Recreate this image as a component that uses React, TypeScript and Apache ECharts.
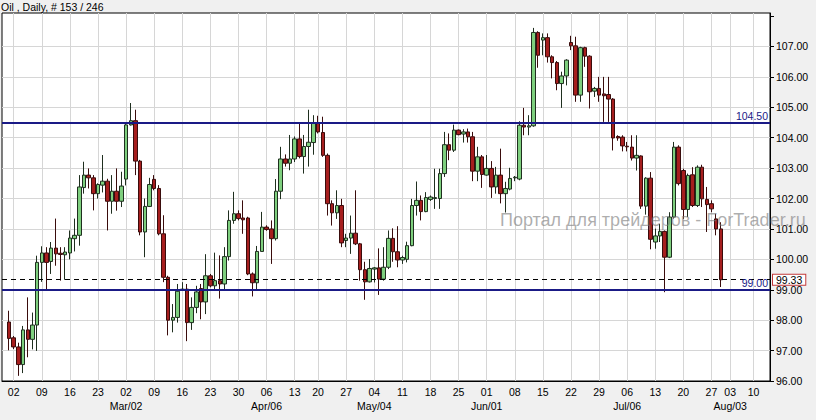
import React, { useEffect, useRef } from "react";
import * as echarts from "echarts";

// ---- data ----
const firstTradingDay = "2014-01-31";
const holidays = ["2014-04-18"];
const futureDays = [
  "2014-07-30", "2014-08-03", "2014-08-04", "2014-08-05", "2014-08-06",
  "2014-08-07", "2014-08-10", "2014-08-11", "2014-08-12", "2014-08-13",
];
const monthNames = ["Jan", "Feb", "Mar", "Apr", "May", "Jun", "Jul", "Aug", "Sep", "Oct", "Nov", "Dec"];

const opens = [
  97.94, 97.42, 97.12, 96.54, 97.68, 97.37, 97.84, 99.9, 100.21, 99.93,
  100.37, 100.2, 100.15, 100.21, 100.68, 100.79, 102.36, 102.77, 102.68, 102.16,
  102.44, 102.57, 101.91, 102.24, 101.91, 102.64, 104.42, 104.56, 103.23, 100.9,
  101.74, 102.63, 102.33, 100.84, 99.41, 98.0, 98.09, 98.98, 99.02, 97.92,
  98.42, 99.04, 98.6, 99.46, 99.13, 99.3, 99.19, 100.09, 101.28, 101.5,
  101.36, 101.36, 99.52, 99.23, 100.26, 101.06, 101.0, 100.68, 102.24, 103.3,
  103.16, 103.3, 103.96, 103.38, 103.71, 103.84, 104.47, 104.17, 103.42, 101.83,
  101.53, 101.77, 100.62, 100.7, 100.86, 100.51, 99.66, 99.26, 99.68, 99.72,
  99.35, 99.74, 100.69, 100.25, 99.98, 100.0, 100.45, 101.77, 101.94, 101.57,
  101.97, 102.0, 102.0, 102.82, 103.77, 103.59, 104.25, 104.12, 104.19, 104.03,
  102.9, 103.37, 102.77, 102.99, 102.38, 102.77, 102.16, 102.31, 102.68, 102.64,
  104.41, 104.35, 104.39, 107.46, 107.21, 107.29, 106.66, 106.47, 105.78, 106.03,
  107.13, 107.02, 105.4, 106.96, 106.68, 105.53, 105.62, 105.44, 105.42, 105.27,
  104.04, 104.02, 103.72, 103.69, 103.33, 103.4, 101.75, 102.67, 100.57, 100.77,
  100.92, 100.07, 101.39, 103.69, 102.92, 101.64, 102.78, 101.77, 103.03, 101.97,
  101.83, 101.33, 101.0,
];
const closes = [
  97.4, 97.12, 96.54, 97.68, 97.37, 97.84, 99.9, 100.21, 99.9, 100.37,
  100.18, 100.16, 100.24, 100.7, 100.79, 102.38, 102.77, 102.68, 102.16, 102.46,
  102.57, 101.91, 102.24, 101.91, 102.41, 104.42, 104.56, 103.23, 100.9, 101.74,
  102.46, 102.33, 100.84, 99.41, 98.0, 98.09, 98.95, 99.02, 97.92, 98.42,
  98.93, 98.6, 99.46, 99.13, 99.3, 99.19, 100.09, 101.28, 101.5, 101.34,
  101.3, 99.52, 99.23, 100.26, 101.06, 100.98, 100.68, 102.24, 103.3, 103.16,
  103.3, 103.96, 103.38, 103.71, 103.85, 104.47, 104.19, 103.42, 101.83, 101.53,
  101.77, 100.54, 100.7, 100.86, 100.51, 99.66, 99.26, 99.7, 99.72, 99.35,
  99.74, 100.69, 100.25, 99.98, 100.06, 100.45, 101.77, 101.94, 101.57, 102.03,
  102.05, 102.03, 102.82, 103.77, 103.59, 104.25, 104.1, 104.19, 104.03, 102.9,
  103.37, 102.79, 102.99, 102.38, 102.77, 102.16, 102.33, 102.66, 102.7, 104.41,
  104.35, 104.39, 107.46, 106.71, 107.29, 106.66, 106.47, 105.78, 106.03, 106.55,
  107.02, 105.4, 106.96, 106.68, 105.51, 105.62, 105.4, 105.38, 105.27, 103.99,
  103.99, 103.73, 103.7, 103.33, 103.42, 101.75, 102.67, 100.66, 100.77, 100.92,
  100.07, 101.39, 103.69, 102.49, 101.64, 102.76, 101.77, 103.03, 101.99, 101.8,
  101.66, 101.0, 99.33,
];
const lows = [
  97.01, 97.05, 96.17, 96.26, 96.78, 97.04, 96.99, 99.26, 99.0, 99.52,
  99.79, 99.3, 99.33, 100.0, 100.26, 100.45, 102.16, 102.33, 101.61, 102.0,
  102.2, 100.95, 101.5, 101.6, 101.72, 102.43, 104.4, 102.77, 100.79, 100.07,
  101.72, 102.27, 100.79, 99.25, 97.5, 97.6, 97.92, 98.96, 97.31, 97.68,
  98.23, 98.03, 98.2, 99.08, 99.0, 98.71, 99.02, 99.96, 101.17, 101.28,
  100.84, 99.48, 98.78, 99.02, 100.26, 100.94, 99.85, 100.62, 101.98, 103.05,
  102.93, 103.2, 103.32, 102.82, 103.05, 103.44, 104.14, 103.37, 101.44, 101.11,
  101.33, 100.4, 100.4, 100.18, 100.47, 99.3, 98.67, 99.24, 99.24, 98.83,
  99.3, 99.68, 99.92, 99.74, 99.85, 99.9, 100.43, 101.44, 101.28, 101.55,
  101.92, 101.66, 101.66, 102.71, 103.26, 103.53, 104.08, 103.84, 103.84, 102.57,
  102.57, 102.35, 102.75, 102.02, 102.16, 101.84, 101.54, 102.27, 102.57, 102.6,
  104.08, 104.08, 104.36, 106.3, 106.71, 106.47, 105.95, 105.56, 104.98, 105.72,
  106.88, 105.18, 105.18, 106.33, 104.96, 105.34, 105.18, 104.52, 104.52, 103.58,
  103.9, 103.55, 103.55, 103.25, 102.92, 101.66, 101.47, 100.33, 100.35, 100.57,
  98.92, 100.04, 101.34, 102.43, 101.33, 101.39, 101.72, 101.72, 101.72, 100.9,
  101.55, 100.79, 99.09,
];
const highs = [
  98.31, 97.48, 97.26, 97.81, 98.75, 98.25, 100.12, 100.43, 100.4, 100.57,
  101.34, 100.4, 100.4, 100.95, 101.34, 102.77, 103.21, 102.99, 102.77, 102.5,
  103.43, 102.65, 102.77, 102.99, 102.88, 104.48, 105.14, 104.92, 103.27, 102.0,
  102.68, 102.77, 102.44, 101.45, 99.46, 98.53, 99.19, 99.25, 99.19, 98.75,
  99.13, 99.19, 100.17, 99.52, 100.22, 100.13, 100.4, 101.61, 102.22, 101.61,
  101.94, 101.4, 99.57, 100.44, 101.56, 101.12, 101.28, 102.64, 103.7, 103.45,
  104.09, 104.04, 104.48, 104.09, 104.92, 104.74, 104.72, 104.69, 103.48, 101.94,
  102.27, 101.99, 100.84, 101.44, 102.27, 100.54, 99.92, 100.01, 99.75, 100.36,
  100.4, 100.95, 101.02, 101.09, 100.12, 100.58, 101.99, 102.56, 102.1, 102.21,
  102.1, 102.98, 102.98, 104.19, 104.14, 104.43, 104.27, 104.28, 104.3, 104.19,
  103.7, 103.43, 103.43, 103.23, 103.04, 103.64, 102.55, 103.01, 102.74, 104.54,
  104.98, 104.74, 107.61, 107.5, 107.43, 107.43, 106.71, 106.52, 106.17, 106.58,
  107.35, 107.32, 106.99, 106.99, 106.71, 105.67, 106.0, 106.0, 106.0, 105.3,
  104.08, 104.08, 103.86, 104.08, 104.08, 103.42, 102.7, 102.87, 101.01, 101.17,
  100.95, 101.55, 103.86, 103.75, 102.98, 102.82, 103.03, 103.09, 103.11, 102.38,
  101.94, 101.5, 101.22,
];

const resistanceLevel = 104.5;
const supportLevel = 99.0;
const lastPrice = 99.33;
const yMin = 96;
const yMax = 108.1;
const yStep = 1;
const yLabelTop = 107;
const titleText = "Oil , Daily, # 153 / 246";
const watermarkText = "Портал для трейдеров - ForTrader.ru";

// ---- helpers ----
const pad2 = (n: number) => (n < 10 ? "0" + n : "" + n);
const toKey = (d: Date) =>
  `${d.getUTCFullYear()}-${pad2(d.getUTCMonth() + 1)}-${pad2(d.getUTCDate())}`;
const parseKey = (s: string) => {
  const [y, m, d] = s.split("-").map(Number);
  return new Date(Date.UTC(y, m - 1, d));
};

function buildTradingDays(count: number): string[] {
  const out: string[] = [];
  const d = parseKey(firstTradingDay);
  while (out.length < count) {
    const key = toKey(d);
    if (d.getUTCDay() !== 6 && holidays.indexOf(key) < 0) out.push(key);
    d.setUTCDate(d.getUTCDate() + 1);
  }
  return out;
}

const isSunday = (v: string) => !!v && parseKey(v).getUTCDay() === 0;

const FONT = '"Liberation Sans", Arial, sans-serif';
const NAVY = "#1a1a86";
const GRID = "#d6d6d6";

export default function App() {
  const ref = useRef<HTMLDivElement>(null);

  useEffect(() => {
    document.body.style.margin = "0";
    if (!ref.current) return;
    const chart = echarts.init(ref.current, undefined, { renderer: "svg" });

    const tradingDays = buildTradingDays(opens.length);
    const categories = ["", ...tradingDays, ...futureDays];
    const firstSunday = tradingDays.find(isSunday) || tradingDays[0];
    const firstLabelMonth = firstSunday.slice(5, 7);
    const ohlc = categories.map((_c, i) => {
      const k = i - 1;
      if (k < 0 || k >= opens.length) return "-";
      return [opens[k], closes[k], lows[k], highs[k]];
    });

    const labelFormatter = (v: string) => {
      if (!v) return "";
      const dd = v.slice(8, 10);
      const mm = v.slice(5, 7);
      if (Number(dd) <= 7 && mm !== firstLabelMonth) {
        return `${dd}\n${monthNames[Number(mm) - 1]}/${dd}`;
      }
      return dd;
    };

    // split line colours per y tick (ticks above the last labelled value are hidden)
    const yTickValues: number[] = [];
    for (let v = yMin; v <= yMax + 1e-9; v += yStep) yTickValues.push(v);
    if (yTickValues[yTickValues.length - 1] < yMax - 1e-9) yTickValues.push(yMax);
    const splitColors = yTickValues.map((v) => (v <= yLabelTop + 1e-9 ? GRID : "rgba(0,0,0,0)"));

    chart.setOption({
      animation: false,
      backgroundColor: "#f0f0f0",
      title: {
        text: titleText,
        left: 1,
        top: 1,
        padding: 0,
        textStyle: { fontSize: 10.5, fontWeight: "normal", color: "#000", fontFamily: FONT },
      },
      grid: {
        left: 2,
        right: 46,
        top: 13,
        bottom: 39,
        containLabel: false,
        outerBoundsMode: "none",
        show: true,
        backgroundColor: "#ffffff",
        borderColor: "#000",
        borderWidth: 1,
      },
      xAxis: {
        type: "category",
        data: categories,
        boundaryGap: true,
        axisLine: { show: true, lineStyle: { color: "#000" } },
        axisTick: { show: false },
        axisLabel: {
          interval: (_i: number, v: string) => isSunday(v),
          formatter: labelFormatter,
          margin: 4,
          fontSize: 10.5,
          lineHeight: 14,
          color: "#000",
          fontFamily: FONT,
        },
        splitLine: {
          show: true,
          interval: (_i: number, v: string) => isSunday(v),
          alignWithLabel: true,
          lineStyle: { color: GRID, width: 1 },
        },
      },
      yAxis: {
        type: "value",
        position: "right",
        min: yMin,
        max: yMax,
        interval: yStep,
        axisLine: { show: true, lineStyle: { color: "#000" } },
        axisTick: { show: true, length: 4, lineStyle: { color: "#000" } },
        axisLabel: {
          margin: 6,
          color: "#000",
          fontSize: 10.5,
          fontFamily: FONT,
          showMaxLabel: false,
          formatter: (v: number) =>
            v <= yLabelTop + 1e-9 && Math.abs(v - Math.round(v)) < 1e-6 ? v.toFixed(2) : "",
        },
        splitLine: { show: true, lineStyle: { color: splitColors, width: 1 } },
      },
      series: [
        {
          type: "candlestick",
          data: ohlc,
          barWidth: 4,
          itemStyle: {
            color: "#7ecf7e",
            color0: "#a61e1e",
            borderColor: "#1f2f1f",
            borderColor0: "#3a0c0c",
            borderWidth: 1,
          },
          markLine: {
            silent: true,
            symbol: ["none", "none"],
            animation: false,
            data: [
              {
                yAxis: resistanceLevel,
                lineStyle: { color: NAVY, width: 2, type: "solid" },
                label: {
                  position: "insideEndTop",
                  distance: [2, 1],
                  formatter: resistanceLevel.toFixed(2),
                  color: NAVY,
                  fontSize: 10.5,
                  fontFamily: FONT,
                },
              },
              {
                yAxis: supportLevel,
                lineStyle: { color: NAVY, width: 2, type: "solid" },
                label: {
                  position: "insideEndTop",
                  distance: [2, 1],
                  formatter: supportLevel.toFixed(2),
                  color: NAVY,
                  fontSize: 10.5,
                  fontFamily: FONT,
                },
              },
              {
                yAxis: lastPrice,
                lineStyle: { color: "#000", width: 1, type: [5, 4] },
                label: {
                  position: "end",
                  distance: 3,
                  formatter: lastPrice.toFixed(2),
                  color: "#000",
                  fontSize: 10.5,
                  fontFamily: FONT,
                  backgroundColor: "#fff",
                  borderColor: "#c23a3a",
                  borderWidth: 1,
                  padding: [0, 3, 0, 3],
                  lineHeight: 10,
                },
              },
            ],
          },
        },
      ],
      graphic: [
        {
          type: "text",
          left: 500,
          top: 211,
          z: 100,
          silent: true,
          style: {
            text: watermarkText,
            fontSize: 18,
            fontFamily: FONT,
            fill: "rgba(120,120,120,0.6)",
          },
        },
      ],
    });

    return () => chart.dispose();
  }, []);

  return <div ref={ref} style={{ width: 816, height: 420 }} />;
}
